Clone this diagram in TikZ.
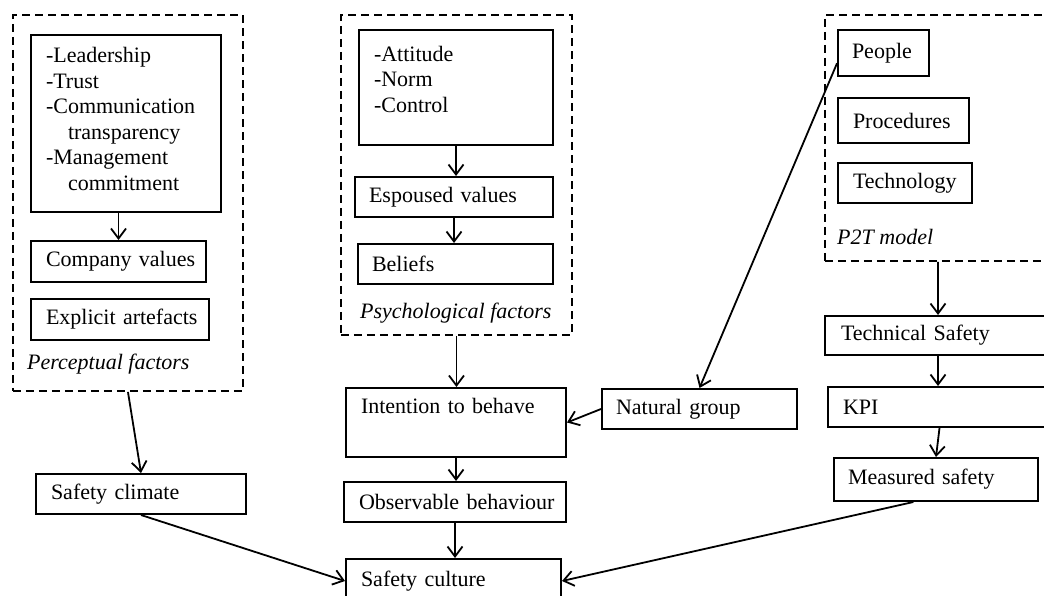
\documentclass[tikz,border=0pt]{standalone}
\usepackage{fontspec}
\setmainfont{Liberation Serif}
\usetikzlibrary{arrows.meta,calc}
\tikzset{
  box/.style={draw, line width=2pt, anchor=north west, inner xsep=15pt, inner ysep=0pt, align=left,
    font=\fontsize{22}{25.5}\selectfont},
  grp/.style={draw, dash pattern=on 8pt off 5pt, line width=1.9pt, anchor=north west, inner sep=0pt},
  lbl/.style={anchor=west, inner sep=0pt, font=\fontsize{22}{25.5}\selectfont\itshape},
  arr/.style={-{Straight Barb[length=10pt,width=15pt]}, line width=1.8pt}
}
\begin{document}
\begin{tikzpicture}[x=1pt,y=-1pt]
\useasboundingbox (0,0) rectangle (1044,596);
% group containers
\node[grp, minimum width=230, minimum height=376] (perc) at (12,14) {};
\node[grp, minimum width=231, minimum height=320] (psych) at (340,14) {};
\node[grp, minimum width=226, minimum height=246] (p2t) at (824,14) {};
\node[lbl] (perclbl) at (27,364) {Perceptual factors};
\node[lbl] (psychlbl) at (360,313) {Psychological factors};
\node[lbl] (p2tlbl) at (837,237) {P2T model};
% left column
\node[box, minimum width=190, minimum height=177, text width=160] (lead) at (30,34)
  {\mbox{-Leadership}\\\mbox{-Trust}\\\mbox{-Communication}\\\mbox{\hspace*{22pt}transparency}\\\mbox{-Management}\\\mbox{\hspace*{22pt}commitment}\\[-16pt]\mbox{}};
\node[box, minimum width=175, minimum height=41, text width=145] (compv) at (30,240) {\mbox{Company values}};
\node[box, minimum width=178, minimum height=41, text width=148] (expl) at (30,298) {\mbox{Explicit artefacts}};
\node[box, minimum width=210, minimum height=40, text width=180] (sclim) at (35,473) {\mbox{Safety climate}};
% middle column
\node[box, minimum width=194, minimum height=115, text width=164] (att) at (358,29) {\mbox{-Attitude}\\\mbox{-Norm}\\\mbox{-Control}\\[-9pt]\mbox{}};
\node[box, minimum width=198, minimum height=40, text width=170, inner xsep=14pt] (esp) at (354,176) {\mbox{Espoused values}};
\node[box, minimum width=195, minimum height=40, text width=167, inner xsep=14pt] (bel) at (357,243) {\mbox{Beliefs}};
\node[box, minimum width=220, minimum height=69, text width=190] (intent) at (345,387) {\mbox{Intention to behave}\\\strut};
\node[box, minimum width=222, minimum height=40, text width=192] (obs) at (343,481) {\mbox{Observable behaviour}};
\node[box, minimum width=215, minimum height=44, text width=185] (scult) at (345,558) {\mbox{Safety culture}};
\node[box, minimum width=195, minimum height=40, text width=167, inner xsep=14pt] (ng) at (601,388) {\mbox{Natural group}};
% right column
\node[box, minimum width=91, minimum height=46, text width=63, inner xsep=14pt] (people) at (837,29) {\mbox{People}};
\node[box, minimum width=131, minimum height=45, text width=101] (proc) at (837,97) {\mbox{Procedures}};
\node[box, minimum width=134, minimum height=40, text width=104] (tech) at (837,162) {\mbox{Technology}};
\node[box, minimum width=226, minimum height=39, text width=194, inner xsep=16pt] (techs) at (824,315) {\mbox{Technical Safety}};
\node[box, minimum width=223, minimum height=40, text width=193] (kpi) at (827,386) {\mbox{KPI}};
\node[box, minimum width=204, minimum height=43, text width=176, inner xsep=14pt] (meas) at (833,457) {\mbox{Measured safety}};
% connectors
\draw[arr] (lead.south -| compv.north) -- (compv.north);
\draw[arr] (perc.south) -- (sclim.north);
\draw[arr] (att.south) -- (att.south |- esp.north);
\draw[arr] (esp.south) -- (esp.south |- bel.north);
\draw[arr] (psych.south) -- (psych.south |- intent.north);
\draw[arr] (intent.south) -- (intent.south |- obs.north);
\draw[arr] (obs.south) -- (obs.south |- scult.north);
\draw[arr] (ng.west) -- (intent.east);
\draw[arr] ($(people.west)!0.43!(people.south west)$) -- (ng.north);
\draw[arr] (p2t.south) -- (techs.north);
\draw[arr] (techs.south) -- (techs.south |- kpi.north);
\draw[arr] (kpi.south) -- (meas.north);
\draw[arr] (sclim.south) -- (scult.west);
\draw[arr] ($(meas.south west)!0.39!(meas.south east)$) -- (scult.east);
\end{tikzpicture}
\end{document}
